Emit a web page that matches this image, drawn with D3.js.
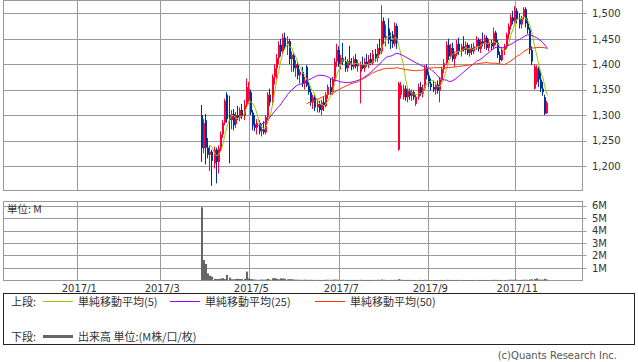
<!DOCTYPE html>
<html>
<head>
<meta charset="utf-8">
<script src="https://cdn.jsdelivr.net/npm/d3@7"></script>
<style>
    body{margin:0;background:#fff;}
    text{font-family:"DejaVu Sans","Noto Sans CJK JP",sans-serif;fill:#333;}
    .jp{font-family:"Noto Sans CJK JP",sans-serif;}
</style>
</head>
<body>
<script>
(function(){

    //trading-day index of the first candle (listing day)
    var firstDay = 92;

    //daily prices
    var opens = [1300,1235,1290,1236,1222,1228,1205,1232,1208,1235,
        1262,1285,1340,1300,1290,1302,1282,1300,1295,1310,
        1298,1320,1330,1345,1305,1282,1275,1285,1268,1272,
        1266,1296,1340,1325,1375,1392,1412,1438,1425,1452,
        1440,1445,1410,1418,1392,1400,1378,1385,1362,1395,
        1358,1345,1325,1335,1315,1322,1310,1325,1318,1340,
        1355,1345,1370,1405,1428,1400,1412,1405,1392,1406,
        1400,1395,1410,1396,1385,1398,1392,1405,1398,1410,
        1402,1420,1412,1432,1425,1485,1452,1470,1448,1458,
        1440,1475,1232,1340,1335,1352,1335,1348,1338,1345,
        1322,1336,1355,1342,1352,1392,1378,1362,1355,1350,
        1360,1348,1370,1390,1402,1438,1415,1432,1410,1420,
        1440,1425,1435,1428,1438,1422,1432,1425,1435,1448,
        1430,1445,1440,1452,1432,1442,1435,1462,1442,1418,
        1408,1428,1435,1458,1475,1492,1485,1505,1488,1478,
        1492,1508,1480,1468,1428,1352,1365,1390,1370,1352,
        1335,1304];
    var highs = [1320,1292,1302,1255,1240,1232,1238,1236,1240,1268,
        1290,1332,1345,1338,1310,1312,1306,1318,1315,1322,
        1330,1372,1365,1350,1310,1300,1292,1290,1282,1288,
        1300,1345,1352,1380,1400,1420,1445,1450,1460,1462,
        1455,1450,1425,1422,1408,1405,1390,1395,1375,1398,
        1365,1352,1340,1340,1330,1328,1330,1335,1345,1360,
        1372,1375,1412,1440,1435,1418,1442,1415,1410,1436,
        1412,1415,1420,1408,1405,1415,1412,1420,1418,1422,
        1428,1430,1440,1450,1516,1492,1478,1490,1462,1465,
        1482,1480,1365,1365,1360,1358,1355,1352,1350,1348,
        1340,1362,1365,1360,1398,1400,1385,1372,1368,1365,
        1368,1375,1395,1410,1445,1450,1440,1442,1425,1448,
        1452,1440,1455,1445,1442,1438,1440,1442,1455,1452,
        1450,1462,1458,1456,1450,1448,1472,1466,1448,1425,
        1432,1440,1462,1480,1498,1505,1514,1510,1500,1495,
        1512,1512,1490,1472,1435,1400,1398,1395,1385,1365,
        1340,1328];
    var lows = [1208,1225,1203,1215,1190,1161,1195,1166,1185,1228,
        1255,1280,1285,1205,1272,1270,1275,1290,1288,1292,
        1290,1315,1322,1300,1270,1268,1262,1262,1258,1262,
        1262,1290,1318,1320,1360,1370,1400,1415,1420,1428,
        1418,1400,1385,1385,1375,1370,1362,1355,1350,1355,
        1340,1318,1312,1308,1305,1305,1300,1308,1315,1332,
        1340,1340,1365,1395,1395,1390,1398,1385,1385,1398,
        1388,1390,1392,1385,1323,1390,1385,1395,1392,1398,
        1398,1405,1405,1418,1420,1440,1435,1440,1430,1432,
        1435,1430,1230,1332,1330,1328,1325,1330,1328,1330,
        1318,1330,1338,1335,1348,1370,1355,1348,1345,1340,
        1342,1325,1365,1382,1398,1408,1410,1405,1395,1415,
        1418,1415,1425,1420,1418,1415,1418,1420,1428,1425,
        1422,1435,1430,1428,1425,1428,1430,1438,1412,1402,
        1405,1418,1430,1450,1468,1478,1480,1480,1470,1470,
        1488,1472,1460,1420,1398,1350,1360,1355,1345,1338,
        1300,1302];
    var closes = [1235,1284,1236,1222,1228,1210,1232,1208,1235,1262,
        1285,1328,1292,1290,1302,1280,1300,1295,1310,1298,
        1320,1355,1350,1305,1280,1275,1285,1268,1272,1266,
        1296,1340,1325,1375,1392,1412,1438,1425,1452,1435,
        1445,1410,1418,1392,1400,1378,1385,1362,1368,1358,
        1345,1325,1335,1315,1322,1310,1325,1318,1340,1355,
        1345,1370,1405,1428,1400,1412,1405,1392,1406,1400,
        1395,1410,1396,1402,1398,1392,1405,1398,1410,1402,
        1420,1412,1432,1425,1485,1452,1455,1448,1445,1440,
        1475,1442,1362,1358,1352,1335,1348,1338,1345,1335,
        1336,1355,1342,1352,1392,1378,1362,1355,1350,1360,
        1348,1370,1390,1402,1438,1415,1432,1410,1420,1440,
        1425,1435,1428,1438,1422,1432,1425,1435,1448,1430,
        1445,1440,1452,1432,1442,1435,1462,1442,1418,1408,
        1428,1435,1458,1475,1492,1485,1505,1488,1478,1490,
        1508,1480,1468,1428,1405,1395,1392,1370,1352,1345,
        1303,1324];

    //daily volume in millions
    var volumes = [5.87,1.63,1.31,0.55,0.37,0.3,0.12,0.1,0.1,0.14,
        0.17,0.1,0.43,0.22,0.08,0.08,0.1,0.12,0.1,0.1,
        0.12,0.7,0.15,0.1,0.08,0.06,0.05,0.05,0.06,0.05,
        0.06,0.12,0.06,0.16,0.18,0.12,0.08,0.16,0.15,0.12,
        0.08,0.1,0.08,0.06,0.05,0.05,0.04,0.04,0.05,0.04,
        0.03,0.04,0.03,0.03,0.04,0.03,0.03,0.03,0.04,0.05,
        0.04,0.04,0.06,0.05,0.04,0.03,0.04,0.03,0.03,0.03,
        0.03,0.03,0.03,0.03,0.04,0.03,0.03,0.03,0.03,0.03,
        0.03,0.03,0.04,0.03,0.06,0.04,0.03,0.03,0.03,0.03,
        0.04,0.03,0.09,0.05,0.03,0.03,0.03,0.03,0.03,0.02,
        0.02,0.03,0.03,0.02,0.04,0.03,0.02,0.02,0.02,0.02,
        0.02,0.03,0.03,0.03,0.04,0.03,0.03,0.03,0.02,0.03,
        0.03,0.02,0.03,0.02,0.02,0.02,0.02,0.02,0.03,0.02,
        0.02,0.02,0.03,0.02,0.02,0.02,0.04,0.03,0.03,0.03,
        0.02,0.02,0.03,0.04,0.05,0.04,0.05,0.04,0.03,0.03,
        0.05,0.04,0.04,0.06,0.08,0.1,0.15,0.06,0.05,0.05,
        0.12,0.06];

    //month ticks (in trading-day index) and labels
    var monthLabels = ["2017/1", "2017/3", "2017/5", "2017/7", "2017/9", "2017/11"];
    var monthDays = [34.6, 73.2, 114.7, 156.6, 198, 238.5];
    var priceTicks = [1200, 1250, 1300, 1350, 1400, 1450, 1500];
    var volumeTicks = [1, 2, 3, 4, 5, 6];
    var maPeriods = [5, 25, 50];
    var maNames = ["単純移動平均(5)", "単純移動平均(25)", "単純移動平均(50)"];

    //colours
    var maColors = ["#99cc00", "#9900ff", "#ff3300"];
    var upColor = "#ff0033", downColor = "#003399", gridColor = "#999";

    var width = 638, height = 362;
    var left = 3.5, right = 582.5;

    var svg = d3.select("body")
        .append("svg")
        .attr("width", width)
        .attr("height", height);

    //scales
    var x = d3.scaleLinear().domain([0, 270]).range([3, 583]);
    var yPrice = d3.scaleLinear().domain([1152.2, 1525.1]).range([190.3, 0.5]);
    var yVol = d3.scaleLinear().domain([0, 6.32]).range([280.3, 201.7]);

    function px(v){ return Math.round(v) + 0.5; }

    //candle records
    var days = closes.map(function(c, k){
        return {i: firstDay + k, o: opens[k], h: highs[k], l: lows[k], c: c, v: volumes[k]};
    });

    //panels: grid + border
    drawPanel(yPrice, priceTicks, 0.5, 190.5, d3.format(","));
    drawPanel(yVol, volumeTicks, 201.5, 280.5, function(d){ return d + "M"; });

    function drawPanel(yScale, ticks, top, bottom, fmt){
        var g = svg.append("g");
        g.selectAll(".hgrid")
            .data(ticks)
            .enter()
            .append("line")
            .attr("x1", left)
            .attr("x2", right + 4)
            .attr("y1", function(d){ return px(yScale(d)); })
            .attr("y2", function(d){ return px(yScale(d)); })
            .attr("stroke", gridColor);
        g.selectAll(".vgrid")
            .data(monthDays)
            .enter()
            .append("line")
            .attr("x1", function(d){ return px(x(d)); })
            .attr("x2", function(d){ return px(x(d)); })
            .attr("y1", top)
            .attr("y2", bottom)
            .attr("stroke", gridColor);
        g.append("rect")
            .attr("x", left)
            .attr("y", top)
            .attr("width", right - left)
            .attr("height", bottom - top)
            .attr("fill", "none")
            .attr("stroke", gridColor);
        g.selectAll(".lbl")
            .data(ticks)
            .enter()
            .append("text")
            .attr("x", 592)
            .attr("y", function(d){ return yScale(d) + 3.8; })
            .attr("font-size", "10px")
            .text(fmt);
    }

    //volume bars
    svg.append("g").selectAll("rect")
        .data(days)
        .enter()
        .append("rect")
        .attr("x", function(d){ return Math.round(x(d.i)); })
        .attr("width", 2)
        .attr("y", function(d){ return yVol(d.v); })
        .attr("height", function(d){ return Math.max(0.6, yVol(0) - yVol(d.v)); })
        .attr("fill", "#666");

    //candles
    var candles = svg.append("g").selectAll("g")
        .data(days)
        .enter()
        .append("g");
    candles.append("line")
        .attr("x1", function(d){ return Math.round(x(d.i)) + 0.5; })
        .attr("x2", function(d){ return Math.round(x(d.i)) + 0.5; })
        .attr("y1", function(d){ return yPrice(d.h); })
        .attr("y2", function(d){ return yPrice(d.l); })
        .attr("stroke", function(d){ return d.c >= d.o ? upColor : downColor; });
    candles.append("rect")
        .attr("x", function(d){ return Math.round(x(d.i)); })
        .attr("width", 2)
        .attr("y", function(d){ return yPrice(Math.max(d.o, d.c)); })
        .attr("height", function(d){ return Math.max(1, Math.abs(yPrice(d.o) - yPrice(d.c))); })
        .attr("fill", function(d){ return d.c >= d.o ? upColor : downColor; });

    //moving averages
    var line = d3.line()
        .x(function(d){ return x(d.i) + 1; })
        .y(function(d){ return yPrice(d.v); });
    maPeriods.forEach(function(n, m){
        var pts = [];
        for (var k = n - 1; k < closes.length; k++){
            pts.push({i: firstDay + k, v: d3.mean(closes.slice(k - n + 1, k + 1))});
        }
        svg.append("path")
            .datum(pts)
            .attr("d", line)
            .attr("fill", "none")
            .attr("stroke", maColors[m])
            .attr("stroke-width", 1);
    });

    //month labels
    svg.selectAll(".month")
        .data(monthLabels)
        .enter()
        .append("text")
        .attr("x", function(d, k){ return x(monthDays[k]) + 2; })
        .attr("y", 291.5)
        .attr("text-anchor", "middle")
        .attr("font-size", "10px")
        .text(function(d){ return d; });

    svg.append("text")
        .attr("class", "jp")
        .attr("x", 7)
        .attr("y", 213)
        .attr("font-size", "10.5px")
        .text("単位: M");

    //legend box
    var legend = svg.append("g");
    legend.append("rect")
        .attr("x", 3.5)
        .attr("y", 293.5)
        .attr("width", 631)
        .attr("height", 51)
        .attr("fill", "none")
        .attr("stroke", "#222");
    legend.append("text").attr("class", "jp").attr("x", 11).attr("y", 306)
        .attr("font-size", "11px").text("上段:");
    var legendX = [43, 170, 315];
    maNames.forEach(function(name, m){
        legend.append("line")
            .attr("x1", legendX[m]).attr("x2", legendX[m] + 30)
            .attr("y1", 301.5).attr("y2", 301.5)
            .attr("stroke", maColors[m]);
        legend.append("text").attr("class", "jp")
            .attr("x", legendX[m] + 35).attr("y", 306)
            .attr("font-size", "11px").text(name);
    });
    legend.append("text").attr("class", "jp").attr("x", 11).attr("y", 341)
        .attr("font-size", "11px").text("下段:");
    legend.append("line")
        .attr("x1", 43).attr("x2", 73)
        .attr("y1", 336.5).attr("y2", 336.5)
        .attr("stroke", "#666").attr("stroke-width", 3);
    legend.append("text").attr("class", "jp").attr("x", 78).attr("y", 341)
        .attr("font-size", "11px").text("出来高 単位:(M株/口/枚)");

    svg.append("text")
        .attr("x", 617)
        .attr("y", 359)
        .attr("text-anchor", "end")
        .attr("font-size", "10px")
        .style("fill", "#555")
        .text("(c)Quants Research Inc.");

})();
</script>
</body>
</html>
